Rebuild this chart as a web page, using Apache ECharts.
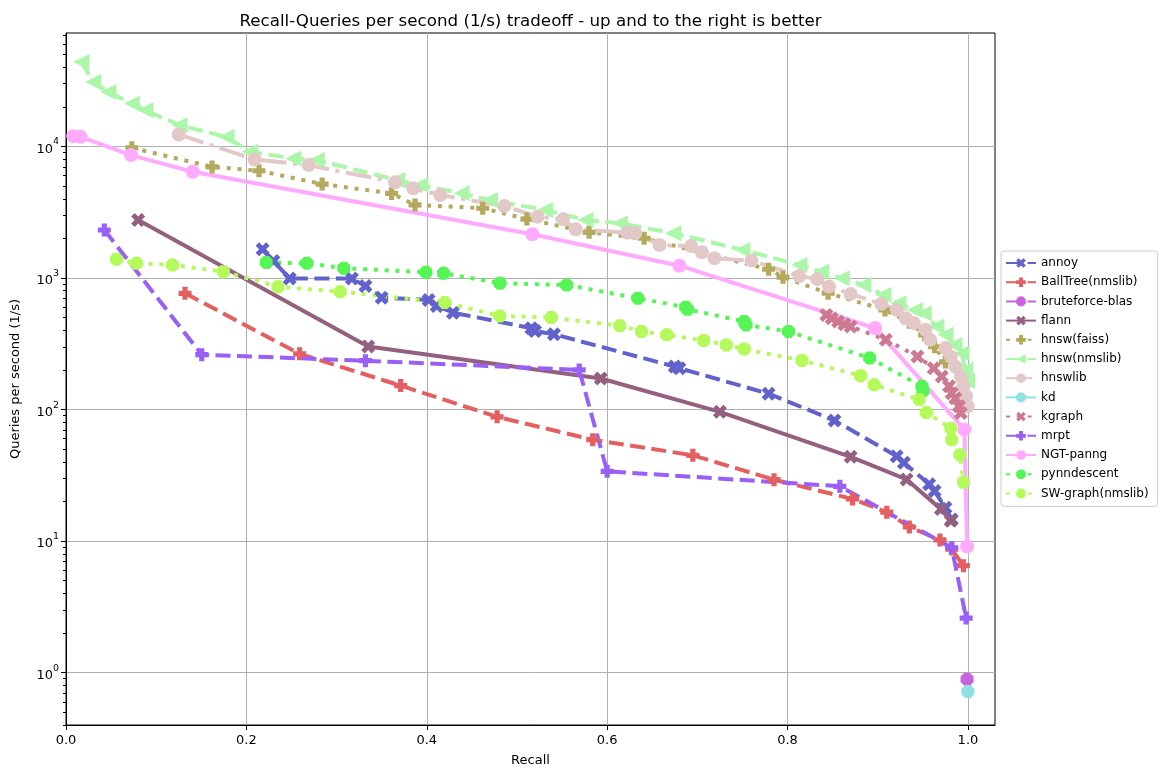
<!DOCTYPE html>
<html><head><meta charset="utf-8">
<script src="https://cdn.jsdelivr.net/npm/echarts@6/dist/echarts.min.js"></script>
<style>html,body{margin:0;padding:0;background:#fff}#c{width:1168px;height:778px}</style>
</head><body><div id="c"></div>
<script>
// ---- data ----
const annoyRecall = [0.218, 0.230, 0.248, 0.317, 0.332, 0.350, 0.402, 0.411, 0.429, 0.516, 0.520, 0.541, 0.675, 0.680, 0.779, 0.852, 0.921, 0.929, 0.957, 0.963, 0.975, 0.982];
const annoyQps    = [1650, 1346, 990, 990, 869, 708, 681, 613, 545, 415, 395, 374, 212, 206, 132, 82.5, 44.2, 39.4, 27.0, 24.0, 17.9, 14.6];
const ballRecall = [0.132, 0.259, 0.371, 0.478, 0.584, 0.695, 0.785, 0.872, 0.910, 0.935, 0.969, 0.982, 0.995];
const ballQps    = [765, 265, 152, 88, 59, 44.9, 29.3, 20.9, 16.6, 12.8, 10.2, 8.7, 6.5];
const bruteRecall = [0.999];
const bruteQps    = [0.89];
const flannRecall = [0.080, 0.335, 0.593, 0.725, 0.870, 0.932, 0.970, 0.981];
const flannQps    = [2755, 301, 172, 96, 43.7, 29.4, 17.5, 14.3];
const faissRecall = [0.073, 0.162, 0.214, 0.284, 0.361, 0.387, 0.462, 0.511, 0.580, 0.641, 0.779, 0.795, 0.845, 0.908, 0.935, 0.952, 0.963, 0.975];
const faissQps    = [9760, 6990, 6530, 5175, 4395, 3590, 3390, 2805, 2222, 2005, 1165, 1014, 766, 572, 460, 370, 300, 230];
const nmsRecall = [0.017, 0.030, 0.047, 0.073, 0.088, 0.126, 0.178, 0.204, 0.252, 0.278, 0.367, 0.393, 0.4385, 0.470, 0.531, 0.576, 0.614, 0.673, 0.750, 0.813, 0.837, 0.860, 0.884, 0.906, 0.923, 0.941, 0.951, 0.965, 0.975, 0.985, 0.993, 0.997, 0.999];
const nmsQps    = [43900, 30900, 25900, 21200, 18800, 14500, 11800, 9100, 8110, 7870, 5550, 5080, 4400, 3910, 3290, 2760, 2605, 2188, 1635, 1257, 1117, 995, 885, 743, 643, 572, 540, 427, 370, 310, 268, 200, 165];
const hlibRecall = [0.125, 0.209, 0.269, 0.365, 0.385, 0.415, 0.486, 0.523, 0.551, 0.565, 0.622, 0.631, 0.658, 0.693, 0.705, 0.719, 0.760, 0.813, 0.833, 0.846, 0.870, 0.904, 0.921, 0.931, 0.940, 0.953, 0.958, 0.975, 0.981, 0.986, 0.992, 0.995, 0.998, 0.9998];
const hlibQps    = [12330, 7960, 7210, 5330, 4800, 4270, 3520, 2925, 2790, 2345, 2210, 2190, 1780, 1750, 1570, 1410, 1355, 1035, 980, 860, 757, 635, 573, 494, 454, 404, 339, 293, 253, 212, 178, 150, 126, 106];
const kdRecall = [1.0];
const kdQps    = [0.72];
const kgraphRecall = [0.843, 0.849, 0.856, 0.863, 0.870, 0.909, 0.944, 0.962, 0.971, 0.979, 0.982, 0.986, 0.990, 0.992];
const kgraphQps    = [524, 495, 467, 445, 428, 339, 253, 206, 178, 150, 133, 122, 106, 94];
const mrptRecall = [0.0425, 0.1505, 0.332, 0.569, 0.600, 0.858, 0.982, 0.998];
const mrptQps    = [2316, 261, 235, 200, 33.9, 26.1, 8.9, 2.6];
const ngtRecall = [0.008, 0.016, 0.072, 0.1405, 0.517, 0.680, 0.897, 0.996, 0.999];
const ngtQps    = [11970, 11830, 8590, 6410, 2150, 1240, 416, 70.3, 9.1];
const pynnRecall = [0.222, 0.267, 0.308, 0.399, 0.4185, 0.481, 0.555, 0.634, 0.687, 0.689, 0.752, 0.754, 0.801, 0.891, 0.949, 0.950];
const pynnQps    = [1309, 1295, 1186, 1107, 1087, 912, 885, 702, 600, 578, 467, 440, 392, 246, 150, 138];
const swRecall = [0.056, 0.078, 0.118, 0.1745, 0.235, 0.304, 0.420, 0.481, 0.538, 0.614, 0.638, 0.666, 0.707, 0.732, 0.752, 0.816, 0.881, 0.896, 0.946, 0.954, 0.981, 0.982, 0.991, 0.995];
const swQps    = [1387, 1294, 1256, 1117, 859, 787, 650, 515, 500, 433, 392, 370, 335, 310, 288, 236, 181, 154, 119, 95, 72, 59, 45.4, 28];

const xTicks = [0, 0.2, 0.4, 0.6, 0.8, 1.0];
const yTicks = [1, 10, 100, 1000, 10000];
const yMinorTicks = [0.4, 0.5, 0.6, 0.7, 0.8, 0.9, 2, 3, 4, 5, 6, 7, 8, 9, 20, 30, 40, 50, 60, 70, 80, 90,
  200, 300, 400, 500, 600, 700, 800, 900, 2000, 3000, 4000, 5000, 6000, 7000, 8000, 9000, 20000, 30000, 40000, 50000, 60000, 70000];

// ---- styles ----
const FONT = 'DejaVu Sans';
const SYM_X = 'path://M0,2.5L2.5,0L5,2.5L7.5,0L10,2.5L7.5,5L10,7.5L7.5,10L5,7.5L2.5,10L0,7.5L2.5,5Z';
const SYM_P = 'path://M3,0H7V3H10V7H7V10H3V7H0V3H3Z';
const SYM_O = 'path://M2.9,0H7.1L10,2.9V7.1L7.1,10H2.9L0,7.1V2.9Z';
const SYM_T = 'path://M0,5L10,0L10,10Z';
const DASH = [15, 6.5];
const DOT = [4, 6.8];
const DASHDOT = [26, 6.5, 4, 6.5];

function mk(name, rec, qps, color, symbol, size, dash) {
  return {
    name, type: 'line',
    data: rec.map((r, i) => [r, qps[i]]),
    symbol, symbolSize: size, symbolKeepAspect: true,
    showAllSymbol: true,
    lineStyle: { color, width: 4, type: dash, cap: 'butt' },
    itemStyle: { color, borderWidth: 0 },
    emphasis: { disabled: true },
    animation: false,
    z: 2
  };
}

const series = [
  mk('annoy', annoyRecall, annoyQps, '#6262cc', SYM_X, 14, DASH),
  mk('BallTree(nmslib)', ballRecall, ballQps, '#e45f5f', SYM_P, 13, DASH),
  mk('bruteforce-blas', bruteRecall, bruteQps, '#c862de', SYM_O, 13, DASH),
  mk('flann', flannRecall, flannQps, '#956080', SYM_X, 14, 'solid'),
  mk('hnsw(faiss)', faissRecall, faissQps, '#b4aa5e', SYM_P, 13, DOT),
  mk('hnsw(nmslib)', nmsRecall, nmsQps, '#aaf7aa', SYM_T, 16, DASH),
  mk('hnswlib', hlibRecall, hlibQps, '#e3c8c8', 'circle', 14, DASHDOT),
  mk('kd', kdRecall, kdQps, '#8ee2e2', SYM_O, 13, 'solid'),
  mk('kgraph', kgraphRecall, kgraphQps, '#cc7a92', SYM_X, 14, DOT),
  mk('mrpt', mrptRecall, mrptQps, '#9a5ff7', SYM_P, 13, DASH),
  mk('NGT-panng', ngtRecall, ngtQps, '#ffaaff', 'circle', 14, 'solid'),
  mk('pynndescent', pynnRecall, pynnQps, '#55f555', SYM_O, 13, DOT),
  mk('SW-graph(nmslib)', swRecall, swQps, '#b4fa5a', SYM_O, 13, DOT)
];

const chart = echarts.init(document.getElementById('c'), null, { renderer: 'canvas' });
chart.setOption({
  animation: false,
  backgroundColor: '#fff',
  textStyle: { fontFamily: FONT },
  title: {
    text: 'Recall-Queries per second (1/s) tradeoff - up and to the right is better',
    left: 525.5, top: 8, textAlign: 'center',
    textStyle: { fontFamily: FONT, fontSize: 16.7, fontWeight: 'normal', color: '#000' }
  },
  grid: { left: 66, right: 173, top: 33, bottom: 53, show: true, borderColor: '#000', borderWidth: 1, backgroundColor: 'transparent' },
  legend: {
    orient: 'vertical', left: 1001, top: 251,
    padding: [6, 9, 7, 4],
    backgroundColor: '#fff', borderColor: '#cccccc', borderWidth: 1, borderRadius: 3,
    itemWidth: 30, itemHeight: 12, itemGap: 7.2,
    textStyle: { fontFamily: FONT, fontSize: 12, color: '#000' },
    data: series.map(s => s.name)
  },
  xAxis: {
    type: 'value', min: 0, max: 1.03, interval: 0.2,
    name: 'Recall', nameLocation: 'middle', nameGap: 29,
    nameTextStyle: { fontFamily: FONT, fontSize: 13, color: '#000' },
    axisLine: { show: true, lineStyle: { color: '#000', width: 1 } },
    axisTick: { show: true, length: 5, lineStyle: { color: '#000' }, customValues: xTicks },
    axisLabel: { customValues: xTicks, formatter: v => v.toFixed(1), color: '#000', fontFamily: FONT, fontSize: 13, margin: 9 },
    splitLine: { show: true, lineStyle: { color: '#b0b0b0', width: 1 } }
  },
  yAxis: [{
    type: 'log', logBase: 10, min: 0.4, max: 72800, position: 'left',
    name: 'Queries per second (1/s)', nameLocation: 'middle', nameGap: 44,
    nameTextStyle: { fontFamily: FONT, fontSize: 13, color: '#000' },
    axisLine: { show: true, lineStyle: { color: '#000', width: 1 } },
    axisTick: { show: true, length: 5, lineStyle: { color: '#000' }, customValues: yTicks },
    axisLabel: {
      customValues: yTicks, margin: 7, color: '#000',
      formatter: v => '{b|10}{s|' + Math.round(Math.log10(v)) + '}',
      rich: {
        b: { fontFamily: FONT, fontSize: 13, color: '#000', lineHeight: 19, verticalAlign: 'bottom' },
        s: { fontFamily: FONT, fontSize: 9.5, color: '#000', lineHeight: 10, verticalAlign: 'top' }
      }
    },
    splitLine: { show: true, lineStyle: { color: '#b0b0b0', width: 1 } }
  }, {
    type: 'log', logBase: 10, min: 0.4, max: 72800, position: 'left', offset: 0,
    axisLine: { show: false },
    axisTick: { show: true, length: 3, lineStyle: { color: '#000' }, customValues: yMinorTicks },
    axisLabel: { show: false },
    splitLine: { show: false }
  }],
  series
});
</script>
</body></html>
